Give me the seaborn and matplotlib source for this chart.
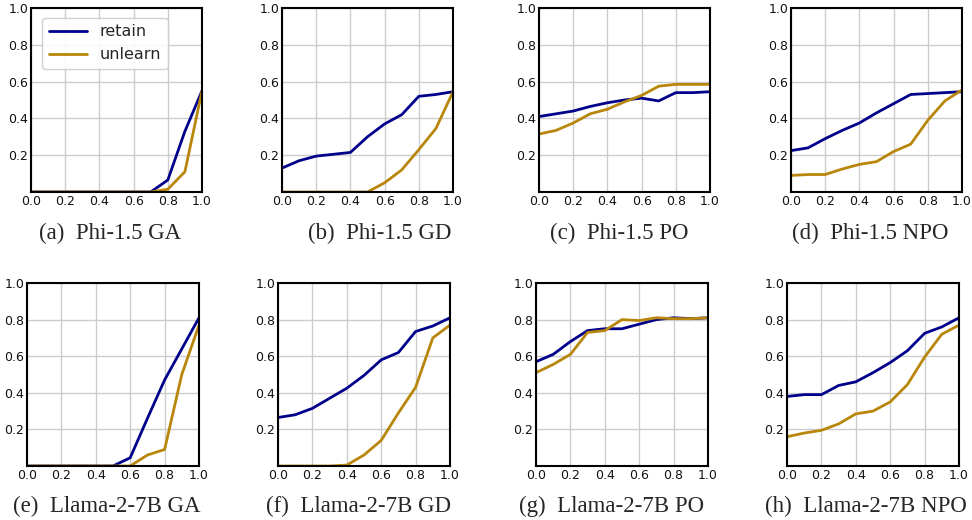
import numpy as np
import pandas as pd
import matplotlib
matplotlib.use("Agg")
import matplotlib.pyplot as plt
import seaborn as sns

# x axis: fraction (0.0 .. 1.0)
x_vals = [0.0, 0.1, 0.2, 0.3, 0.4, 0.5, 0.6, 0.7, 0.8, 0.9, 1.0]

captions = ["(a)  Phi-1.5 GA", "(b)  Phi-1.5 GD", "(c)  Phi-1.5 PO", "(d)  Phi-1.5 NPO",
            "(e)  Llama-2-7B GA", "(f)  Llama-2-7B GD", "(g)  Llama-2-7B PO", "(h)  Llama-2-7B NPO"]

phi_ga_retain = [0, 0, 0, 0, 0, 0, 0, 0, 0.065, 0.33, 0.55]
phi_ga_unlearn = [0, 0, 0, 0, 0, 0, 0, 0, 0.015, 0.11, 0.55]
phi_gd_retain = [0.13, 0.17, 0.195, 0.205, 0.215, 0.30, 0.37, 0.42, 0.52, 0.53, 0.545]
phi_gd_unlearn = [0, 0, 0, 0, 0, 0, 0.05, 0.12, 0.23, 0.345, 0.545]
phi_po_retain = [0.41, 0.425, 0.44, 0.465, 0.485, 0.50, 0.51, 0.495, 0.54, 0.54, 0.545]
phi_po_unlearn = [0.315, 0.335, 0.375, 0.425, 0.45, 0.49, 0.525, 0.575, 0.585, 0.585, 0.585]
phi_npo_retain = [0.225, 0.24, 0.29, 0.335, 0.375, 0.43, 0.48, 0.53, 0.535, 0.54, 0.545]
phi_npo_unlearn = [0.09, 0.095, 0.095, 0.125, 0.15, 0.165, 0.22, 0.26, 0.39, 0.495, 0.555]

llama_ga_retain = [0, 0, 0, 0, 0, 0, 0.045, 0.26, 0.47, 0.64, 0.81]
llama_ga_unlearn = [0, 0, 0, 0, 0, 0, 0, 0.06, 0.09, 0.50, 0.77]
llama_gd_retain = [0.265, 0.28, 0.315, 0.37, 0.425, 0.495, 0.58, 0.62, 0.735, 0.765, 0.81]
llama_gd_unlearn = [0, 0, 0, 0, 0.005, 0.06, 0.14, 0.29, 0.43, 0.70, 0.77]
llama_po_retain = [0.57, 0.61, 0.68, 0.74, 0.75, 0.75, 0.775, 0.80, 0.81, 0.805, 0.81]
llama_po_unlearn = [0.51, 0.555, 0.61, 0.73, 0.74, 0.80, 0.795, 0.81, 0.805, 0.805, 0.81]
llama_npo_retain = [0.38, 0.39, 0.39, 0.44, 0.46, 0.51, 0.565, 0.63, 0.725, 0.76, 0.81]
llama_npo_unlearn = [0.16, 0.18, 0.195, 0.23, 0.285, 0.30, 0.35, 0.445, 0.595, 0.72, 0.77]

panels = [
    (phi_ga_retain, phi_ga_unlearn), (phi_gd_retain, phi_gd_unlearn),
    (phi_po_retain, phi_po_unlearn), (phi_npo_retain, phi_npo_unlearn),
    (llama_ga_retain, llama_ga_unlearn), (llama_gd_retain, llama_gd_unlearn),
    (llama_po_retain, llama_po_unlearn), (llama_npo_retain, llama_npo_unlearn),
]

sns.set_style("whitegrid")
plt.rcParams['font.family'] = ['DejaVu Sans']

colors = {"retain": "#00008B", "unlearn": "#B8860B"}

fig = plt.figure(figsize=(9.72, 5.2), dpi=100)

# axes boxes in pixels
row1_left = [31, 282, 539, 791]
row2_left = [27, 278, 536, 787]
cap_x = [110, 380, 619, 870, 107, 358, 612, 866]
W, H = 972, 520

for i, (ret, unl) in enumerate(panels):
    if i < 4:
        left, top, w, h = row1_left[i], 8, 171, 184
        cap_y = 233
    else:
        left, top, w, h = row2_left[i - 4], 283, 172, 183
        cap_y = 506
    ax = fig.add_axes([left / W, 1 - (top + h) / H, w / W, h / H])
    df = pd.DataFrame({
        "x": x_vals * 2,
        "y": ret + unl,
        "series": ["retain"] * len(x_vals) + ["unlearn"] * len(x_vals),
    })
    sns.lineplot(data=df, x="x", y="y", hue="series", palette=colors,
                 linewidth=2, ax=ax, legend=(i == 0))
    ax.set_xlim(0, 1)
    ax.set_ylim(0, 1)
    ax.set_xticks([0, 0.2, 0.4, 0.6, 0.8, 1.0])
    ax.set_yticks([0.2, 0.4, 0.6, 0.8, 1.0])
    ax.set_xticklabels(["0.0", "0.2", "0.4", "0.6", "0.8", "1.0"])
    ax.set_yticklabels(["0.2", "0.4", "0.6", "0.8", "1.0"])
    ax.tick_params(labelsize=9, length=0, pad=2, colors="#111111")
    ax.set_xlabel("")
    ax.set_ylabel("")
    ax.grid(True, color="#cccccc", linewidth=1)
    for s in ax.spines.values():
        s.set_color("black")
        s.set_linewidth(1.5)
    if i == 0:
        ax.legend(title=None, fontsize=11.5, loc="upper left",
                  bbox_to_anchor=(0.02, 0.99), handlelength=2.4,
                  edgecolor="#cccccc", framealpha=0.9)
    fig.text(cap_x[i] / W, 1 - cap_y / H, captions[i], ha="center", va="center",
             fontsize=16.5, family=["Liberation Serif", "DejaVu Serif"])

fig.savefig("out.png", dpi=100)
